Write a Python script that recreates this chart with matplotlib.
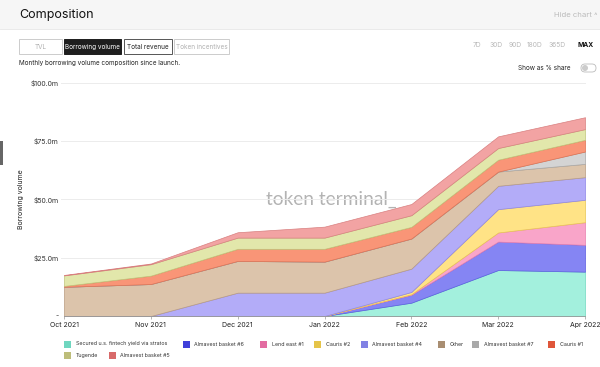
import matplotlib
matplotlib.use("Agg")
import matplotlib.pyplot as plt
from matplotlib.patches import Rectangle, FancyBboxPatch
import numpy as np

plt.rcParams['font.family'] = ['Inter', 'DejaVu Sans']

# ---------------- data ----------------
months = ["Oct 2021", "Nov 2021", "Dec 2021", "Jan 2022", "Feb 2022", "Mar 2022", "Apr 2022"]
series_names = ["Secured u.s. fintech yield via stratos", "Almavest basket #6", "Lend east #1",
                "Cauris #2", "Almavest basket #4", "Other", "Almavest basket #7", "Cauris #1",
                "Tugende", "Almavest basket #5"]
secured   = [0, 0, 0, 0, 5.7, 19.7, 19.0]
almavest6 = [0, 0, 0, 0, 3.4, 12.2, 11.5]
lend_east = [0, 0, 0, 0, 0.2, 3.9, 9.7]
cauris2   = [0, 0, 0, 0, 1.0, 10.0, 9.6]
almavest4 = [0, 0, 10.0, 10.0, 10.0, 10.0, 9.7]
other     = [12.5, 13.7, 13.6, 13.3, 12.9, 6.1, 5.7]
almavest7 = [0, 0, 0, 0, 0, 0, 5.3]
cauris1   = [0.4, 3.6, 5.2, 5.5, 5.0, 5.1, 5.0]
tugende   = [4.5, 4.9, 4.8, 4.8, 5.0, 5.0, 4.6]
almavest5 = [0.2, 0.3, 2.3, 4.7, 4.8, 5.0, 5.1]
series = [secured, almavest6, lend_east, cauris2, almavest4, other, almavest7, cauris1, tugende, almavest5]

y_ticks = [0, 25, 50, 75, 100]
y_tick_labels = ["-", "$25.0m", "$50.0m", "$75.0m", "$100.0m"]
buttons = ["TVL", "Borrowing volume", "Total revenue", "Token incentives"]
ranges = ["7D", "30D", "90D", "180D", "365D", "MAX"]

fill_colors = ["#a3f0dd", "#8585f3", "#f9a5c9", "#ffe386", "#b3acf8", "#dcc4ab",
               "#d4d4d4", "#f99577", "#e2e7ab", "#f2a3a3"]
edge_colors = ["#6fd8c0", "#5a5ae0", "#e77fae", "#e8c650", "#8c84e8", "#b89c80",
               "#a8a8a8", "#e07050", "#c0c57a", "#d88080"]
legend_colors = ["#5fd2b8", "#2b2bd6", "#e05c97", "#e3be35", "#7373e2", "#a08263",
                 "#a0a0a0", "#dc4424", "#b6b66c", "#d45a5a"]

W, H = 600, 367
fig = plt.figure(figsize=(W / 100, H / 100), dpi=100)
fig.patch.set_facecolor("white")

# UI overlay axes in pixel coordinates
ui = fig.add_axes([0, 0, 1, 1], zorder=0)
ui.set_xlim(0, W)
ui.set_ylim(H, 0)
ui.axis("off")

# header band
ui.add_patch(Rectangle((0, 0), W, 29, facecolor="#f6f6f6", edgecolor="none"))
ui.plot([0, W], [29, 29], color="#e6e6e6", lw=0.6)
ui.text(19, 15, "Composition", fontsize=9, color="#111111", va="center", ha="left")
ui.text(598, 15, "Hide chart \u02c4", fontsize=5.6, color="#bbbbbb", va="center", ha="right")

# left grey handle
ui.add_patch(Rectangle((0, 141), 3, 24, facecolor="#666666", edgecolor="none"))

# buttons
btn_x = [(19, 62), (64, 121), (124, 172), (174, 229)]
for (x0, x1), label in zip(btn_x, buttons):
    if label == "Borrowing volume":
        fc, ec, tc = "#1e1e1e", "#1e1e1e", "#ffffff"
    elif label == "Total revenue":
        fc, ec, tc = "white", "#555555", "#222222"
    else:
        fc, ec, tc = "white", "#cccccc", "#b0b0b0"
    ui.add_patch(Rectangle((x0, 39), x1 - x0, 15, facecolor=fc, edgecolor=ec, lw=0.7))
    ui.text((x0 + x1) / 2, 46.8, label, fontsize=4.6, color=tc, ha="center", va="center")

ui.text(19, 62.5, "Monthly borrowing volume composition since launch.", fontsize=4.6,
        color="#222222", ha="left", va="center")

range_x = [477, 496, 515, 535, 557, 586]
for x, r in zip(range_x, ranges):
    ui.text(x, 45, r, fontsize=4.8, color="#111111" if r == "MAX" else "#b8b8b8",
            ha="center", va="center", fontweight="bold" if r == "MAX" else "normal")

ui.text(571, 68, "Show as % share", fontsize=4.6, color="#222222", ha="right", va="center")
ui.add_patch(FancyBboxPatch((581, 64), 15, 8, boxstyle="round,pad=0,rounding_size=4",
                            facecolor="white", edgecolor="#bbbbbb", lw=0.6))
ui.add_patch(plt.Circle((585, 68), 3, facecolor="#cccccc", edgecolor="none"))

# ---------------- main chart ----------------
ax_left, ax_right, ax_top, ax_bottom = 64, 585, 82.7, 316
ax = fig.add_axes([ax_left / W, 1 - ax_bottom / H, (ax_right - ax_left) / W,
                   (ax_bottom - ax_top) / H], zorder=1)
ax.set_facecolor("none")
x = np.arange(len(months))
polys = ax.stackplot(x, *series, colors=fill_colors, zorder=2)
for p, ec in zip(polys, edge_colors):
    p.set_edgecolor(ec)
    p.set_linewidth(0.5)

ax.set_xlim(0, len(months) - 1)
ax.set_ylim(0, 100)
ax.set_yticks(y_ticks)
ax.set_yticklabels(y_tick_labels)
ax.set_xticks(x)
ax.set_xticklabels(months)
for yv in y_ticks[1:]:
    ax.plot([-0.03, len(months) - 1], [yv, yv], color="#ececec", lw=0.7, zorder=1, clip_on=False)
for s in ["top", "right", "left"]:
    ax.spines[s].set_visible(False)
ax.spines["bottom"].set_color("#999999")
ax.spines["bottom"].set_linewidth(0.6)
ax.spines["bottom"].set_zorder(5)
ax.tick_params(axis="y", length=0, labelsize=5, labelcolor="#333333", pad=4)
ax.tick_params(axis="x", length=2.5, width=0.5, color="#999999", labelsize=5,
               labelcolor="#222222", pad=1.5)
ax.set_ylabel("Borrowing volume", fontsize=5, color="#222222", labelpad=4)
ax.yaxis.set_label_coords(-(64 - 24) / (ax_right - ax_left), 0.5)

# watermark
ui.text(331, 199, "token terminal_", fontsize=13.8, color="#b3b3b3", ha="center",
        va="center", zorder=3, family=["Lato", "DejaVu Sans"])

# ---------------- legend ----------------
legend_x = [64, 183, 260, 314, 361, 438, 472, 548, 64, 109]
legend_row = [0, 0, 0, 0, 0, 0, 0, 0, 1, 1]
row_y = [344, 355.5]
for name, col, lx, r in zip(series_names, legend_colors, legend_x, legend_row):
    yy = row_y[r]
    ui.add_patch(Rectangle((lx, yy - 3.3), 6.8, 6.8, facecolor=col, edgecolor="none", alpha=0.9))
    ui.text(lx + 11.5, yy, name, fontsize=3.8, color="#333333", ha="left", va="center")

fig.savefig("out.png", dpi=100)
